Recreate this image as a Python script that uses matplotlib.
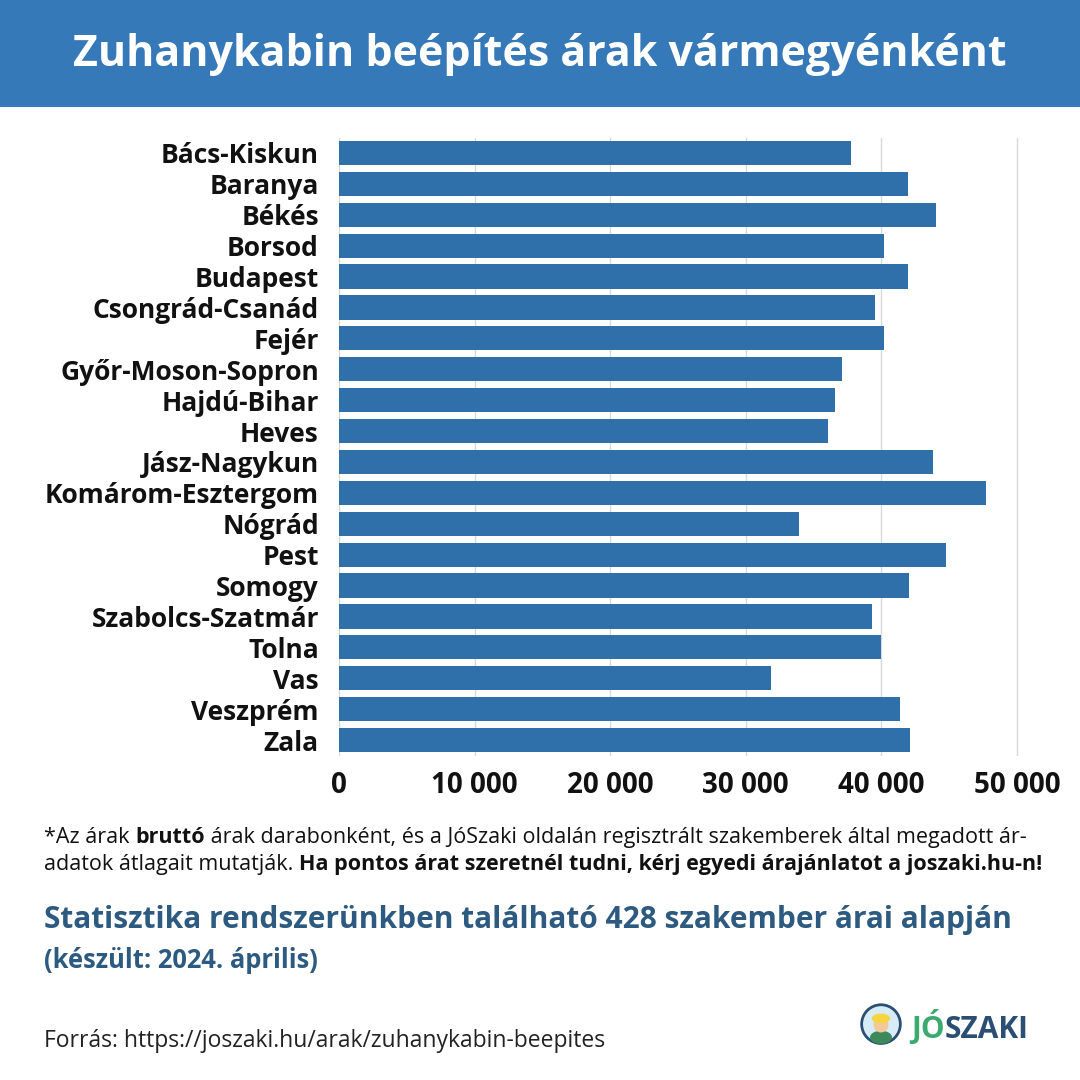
import matplotlib
matplotlib.use("Agg")
import matplotlib.pyplot as plt
from matplotlib.patches import Rectangle, Circle, Ellipse
from matplotlib.ticker import FuncFormatter

counties = ["Bács-Kiskun", "Baranya", "Békés", "Borsod", "Budapest", "Csongrád-Csanád",
            "Fejér", "Győr-Moson-Sopron", "Hajdú-Bihar", "Heves", "Jász-Nagykun",
            "Komárom-Esztergom", "Nógrád", "Pest", "Somogy", "Szabolcs-Szatmár",
            "Tolna", "Vas", "Veszprém", "Zala"]
prices = [37800, 42000, 44000, 40200, 42000, 39500, 40200, 37100, 36600, 36100,
          43800, 47700, 33900, 44800, 42050, 39300, 40000, 31900, 41400, 42100]
xticks = [0, 10000, 20000, 30000, 40000, 50000]

plt.rcParams['font.family'] = ['Open Sans', 'DejaVu Sans']

W = H = 1080
fig = plt.figure(figsize=(10.8, 10.8), dpi=100)
fig.patch.set_facecolor("white")

def fx(px): return px / W
def fy(py): return 1 - py / H

# title band
fig.patches.append(Rectangle((0, fy(107)), 1, 107 / H, transform=fig.transFigure,
                             facecolor="#3579b8", edgecolor="none", zorder=0))
fig.text(0.5, fy(54), "Zuhanykabin beépítés árak vármegyénként", color="white",
         fontsize=31, fontweight="bold", ha="center", va="center")

# axes
ax = fig.add_axes([fx(339), fy(755.5), fx(1044 - 339), (755.5 - 137.5) / H])
ypos = list(range(len(counties)))
ax.barh(ypos, prices, height=0.78, color="#2f70aa", zorder=3)
ax.set_ylim(len(counties) - 0.5, -0.5)
ax.set_xlim(0, 52000)
ax.set_xticks(xticks)
ax.xaxis.set_major_formatter(FuncFormatter(lambda v, p: f"{int(v):,}".replace(",", " ")))
ax.set_yticks(ypos)
ax.set_yticklabels(counties)
ax.grid(axis="x", color="#d9d9d9", linewidth=1, zorder=0)
for s in ax.spines.values():
    s.set_visible(False)
ax.tick_params(axis="both", length=0)
ax.tick_params(axis="y", pad=14.5)
ax.tick_params(axis="x", pad=11)
for lab in ax.get_yticklabels():
    lab.set_fontsize(19)
    lab.set_fontweight("bold")
    lab.set_color("#111111")
for lab in ax.get_xticklabels():
    lab.set_fontsize(20)
    lab.set_fontweight("bold")
    lab.set_color("#111111")

# footnote with mixed weights
fig.canvas.draw()
renderer = fig.canvas.get_renderer()

def mixed_line(x_px, y_px, parts, size, color):
    x = x_px
    for txt, bold in parts:
        t = fig.text(fx(x), fy(y_px), txt, fontsize=size, fontweight="bold" if bold else "normal",
                     color=color, ha="left", va="baseline")
        bb = t.get_window_extent(renderer=renderer)
        x += bb.width
    return x

mixed_line(44, 843, [("*Az árak ", False), ("bruttó", True),
                     (" árak darabonként, és a JóSzaki oldalán regisztrált szakemberek által megadott ár-", False)],
           15.5, "#111111")
mixed_line(44, 870, [("adatok átlagait mutatják. ", False),
                     ("Ha pontos árat szeretnél tudni, kérj egyedi árajánlatot a joszaki.hu-n!", True)],
           15.5, "#111111")

fig.text(fx(44), fy(928), "Statisztika rendszerünkben található 428 szakember árai alapján",
         fontsize=21.5, fontweight="bold", color="#2c5a80", ha="left", va="baseline")
fig.text(fx(44), fy(968), "(készült: 2024. április)",
         fontsize=18.4, fontweight="bold", color="#2c5a80", ha="left", va="baseline")

fig.text(fx(44), fy(1047), "Forrás: https://joszaki.hu/arak/zuhanykabin-beepites",
         fontsize=16.5, color="#222222", ha="left", va="baseline")

# logo
lax = fig.add_axes([fx(859), fy(1047), fx(44), 44 / H])
lax.set_xlim(0, 1); lax.set_ylim(0, 1); lax.set_aspect("equal"); lax.axis("off")
lax.add_patch(Circle((0.5, 0.52), 0.44, facecolor="#d8ecf8", edgecolor="#2b4f72", linewidth=2))
lax.add_patch(Ellipse((0.5, 0.22), 0.5, 0.3, facecolor="#3c8a5a", edgecolor="none"))
lax.add_patch(Circle((0.5, 0.5), 0.17, facecolor="#f3c99b", edgecolor="none"))
lax.add_patch(Ellipse((0.5, 0.65), 0.42, 0.22, facecolor="#f5d640", edgecolor="none"))
mixed_logo_x = 911
t1 = fig.text(fx(mixed_logo_x), fy(1038), "JÓ", fontsize=21.5, fontweight="bold", color="#3aaa6e",
              ha="left", va="baseline")
w1 = t1.get_window_extent(renderer=renderer).width
fig.text(fx(mixed_logo_x + w1), fy(1038), "SZAKI", fontsize=21.5, fontweight="bold",
         color="#2b4f72", ha="left", va="baseline")

fig.savefig("out.png", dpi=100, facecolor="white")
